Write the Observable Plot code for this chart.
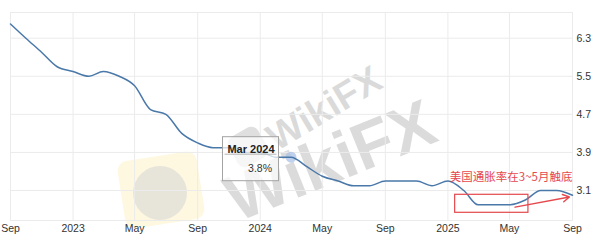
<!DOCTYPE html>
<html><head><meta charset="utf-8">
<script src="https://cdn.jsdelivr.net/npm/d3@7"></script>
<script src="https://cdn.jsdelivr.net/npm/@observablehq/plot@0.6"></script>
<style>
body{margin:0;background:#fff;}
#wrap{position:relative;width:601px;height:244px;overflow:hidden;background:#fff;}
#chart{position:absolute;left:0;top:0;z-index:2;}
.wm{position:absolute;z-index:1;font-family:"Liberation Sans",Arial,sans-serif;font-weight:bold;color:rgba(150,150,150,0.34);white-space:nowrap;transform:translate(-50%,-50%);line-height:1;}
.logo{position:absolute;z-index:1;border-radius:10px;}
</style>
</head><body>
<div id="wrap">
  <div class="logo" style="left:121px;top:156px;width:80px;height:68px;background:rgba(252,238,180,0.42);transform:rotate(-9deg);"></div>
  <div class="logo" style="left:133px;top:166px;width:54px;height:54px;border-radius:50%;background:rgba(200,200,210,0.42);"></div>
  <div class="logo" style="left:231px;top:130px;width:34px;height:34px;background:rgba(150,150,150,0.3);transform:rotate(-30deg);border-radius:8px;"></div>
  <div class="wm" style="left:324px;top:108px;font-size:38px;transform:translate(-50%,-50%) rotate(-31deg);">WikiFX</div>
  <div class="wm" style="left:330px;top:160px;font-size:66px;transform:translate(-50%,-50%) rotate(-22deg);">WikiFX</div>
  <div id="chart"></div>
</div>
<script>
// Core series (monthly), Sep 2022 – Sep 2025
const months = ["2022-09","2022-10","2022-11","2022-12","2023-01","2023-02","2023-03","2023-04","2023-05","2023-06","2023-07","2023-08","2023-09","2023-10","2023-11","2023-12","2024-01","2024-02","2024-03","2024-04","2024-05","2024-06","2024-07","2024-08","2024-09","2024-10","2024-11","2024-12","2025-01","2025-02","2025-03","2025-04","2025-05","2025-06","2025-07","2025-08","2025-09"];
const values = [6.6,6.3,6.0,5.7,5.6,5.5,5.6,5.5,5.3,4.8,4.7,4.3,4.1,4.0,4.0,3.9,3.9,3.8,3.8,3.6,3.4,3.3,3.2,3.2,3.3,3.3,3.3,3.2,3.3,3.1,2.8,2.8,2.8,2.9,3.1,3.1,3.0];

const yTicks = [3.1, 3.9, 4.7, 5.5, 6.3];
const xTickMonths = ["2022-09","2023-01","2023-05","2023-09","2024-01","2024-05","2024-09","2025-01","2025-05","2025-09"];

const tipMonth = "2024-03";
const tipTitle = "Mar 2024";
const tipValue = "3.8%";

const noteText = "美国通胀率在3~5月触底";
const lowMonths = ["2025-03","2025-04","2025-05"];
const arrowStart = {date: "2025-05-12", value: 2.75};
const arrowEnd = {date: "2025-08-26", value: 2.965};

const parse = d3.utcParse("%Y-%m");
const data = months.map((m, i) => ({date: parse(m), value: values[i]}));
const xTicks = xTickMonths.map(parse);
const tip = data.filter(d => +d.date === +parse(tipMonth));
const lows = data.filter(d => lowMonths.includes(d3.utcFormat("%Y-%m")(d.date)));
const lowBox = [{x1: lows[0].date, x2: lows[lows.length - 1].date, y: d3.min(lows, d => d.value)}];
const last = [data[data.length - 1]];
const arrows = [{x1: d3.isoParse(arrowStart.date), y1: arrowStart.value, x2: d3.isoParse(arrowEnd.date), y2: arrowEnd.value}];

const red = "#e5484d";
const lineColor = "#4a78a9";
const grid = "#ebebeb";

const chart = Plot.plot({
  width: 601,
  height: 244,
  marginLeft: 10,
  marginRight: 29,
  marginTop: 12,
  marginBottom: 24,
  style: {fontFamily: "'Liberation Sans', Arial, sans-serif", fontSize: "10.5px", color: "#333", background: "transparent"},
  x: {type: "utc", domain: [parse("2022-09"), parse("2025-09")]},
  y: {domain: [2.47, 6.84]},
  marks: [
    Plot.frame({stroke: grid}),
    Plot.gridX({ticks: xTicks, stroke: grid, strokeOpacity: 1}),
    Plot.gridY({ticks: yTicks, stroke: grid, strokeOpacity: 1}),
    Plot.axisX({ticks: xTicks, tickSize: 0, tickPadding: 4, fill: "#333",
      tickFormat: d => d.getUTCMonth() === 0 ? d3.utcFormat("%Y")(d) : d3.utcFormat("%b")(d)}),
    Plot.axisY({anchor: "right", ticks: yTicks, tickSize: 0, tickPadding: 4, fill: "#333", tickFormat: d => d.toFixed(1)}),
    Plot.dot(tip, {x: "date", y: "value", r: 5.5, fill: "#a9c2e6", fillOpacity: 0.75, stroke: "none"}),
    Plot.line(data, {x: "date", y: "value", stroke: lineColor, strokeWidth: 1.5, curve: "monotone-x"}),
    // tooltip box anchored to the hovered point
    Plot.rect(tip, {x1: "date", x2: "date", y1: "value", y2: "value",
      insetLeft: -68, insetRight: 12, insetTop: -20, insetBottom: -24,
      fill: "white", fillOpacity: 0.72, stroke: "#a3a3a3", strokeWidth: 1}),
    Plot.rect(tip, {x1: "date", x2: "date", y1: "value", y2: "value",
      insetLeft: -66, insetRight: 14, insetTop: -3, insetBottom: 2, fill: "#b5b5b5"}),
    Plot.text(tip, {x: "date", y: "value", text: () => tipTitle, dx: -40, dy: -8,
      fontWeight: "bold", fontSize: 11, fill: "#222"}),
    Plot.text(tip, {x: "date", y: "value", text: () => tipValue, dx: -19, dy: 11,
      textAnchor: "end", fontSize: 10.5, fill: "#333"}),
    // red annotation
    Plot.rect(lowBox, {x1: "x1", x2: "x2", y1: "y", y2: "y",
      insetLeft: -23, insetRight: -19, insetTop: -10, insetBottom: -8,
      fill: "none", stroke: red, strokeWidth: 1.2}),
    Plot.arrow(arrows, {x1: "x1", y1: "y1", x2: "x2", y2: "y2", stroke: red, strokeWidth: 1.4, headLength: 8, bend: 0}),
    Plot.text(last, {x: "date", y: "value", text: () => noteText, dy: -18, textAnchor: "end",
      fill: red, fontSize: 11.5, fontFamily: "'Noto Sans CJK SC', sans-serif"})
  ]
});
document.getElementById("chart").appendChild(chart);
</script>
</body></html>
